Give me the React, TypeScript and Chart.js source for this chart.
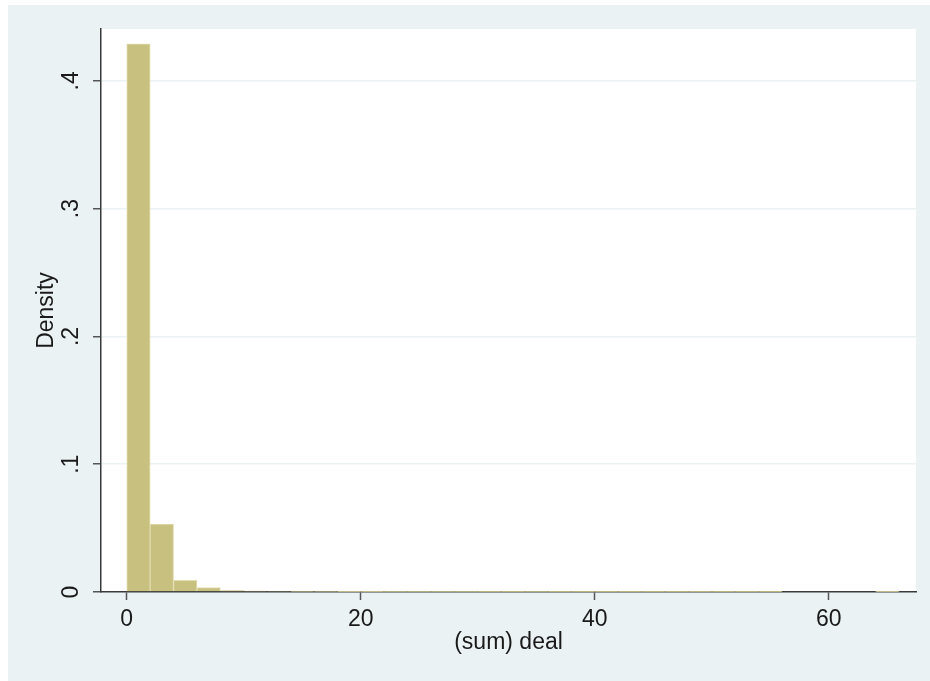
import React, { useEffect, useRef } from "react";
import { Chart, registerables } from "chart.js";

Chart.register(...registerables);

// Histogram of (sum) deal, bins of width 2 starting at 0
const binStarts: number[] = [
  0, 2, 4, 6, 8, 10, 12, 14, 16, 18, 20, 22, 24, 26, 28, 30, 32, 34, 36, 38,
  40, 42, 44, 46, 48, 50, 52, 54, 64,
];
const densities: number[] = [
  0.4289, 0.0532, 0.0092, 0.0034, 0.0011, 0.0008, 0.0006, 0.0005, 0.0004,
  0.0003, 0.0003, 0.0002, 0.0002, 0.0002, 0.0002, 0.0001, 0.0001, 0.0002,
  0.0001, 0.0001, 0.0001, 0.0001, 0.0001, 0.0001, 0.0001, 0.0001, 0.0001,
  0.0001, 0.0003,
];
const binWidth = 2;

const xTicks: number[] = [0, 20, 40, 60];
const yTicks: number[] = [0, 0.1, 0.2, 0.3, 0.4];
const yTickLabels: string[] = ["0", ".1", ".2", ".3", ".4"];

const xTitle = "(sum) deal";
const yTitle = "Density";

const FONT = 'Arial, "Liberation Sans", sans-serif';
const PANEL = "#eaf2f3";
const BAR_FILL = "#c8c07f";
const BAR_EDGE = "#e2ddb2";
const AXIS = "#3a3a3a";
const TICK = "#555555";
const TEXT = "#1a1a1a";

export default function App() {
  const ref = useRef<HTMLCanvasElement | null>(null);

  useEffect(() => {
    const canvas = ref.current;
    if (!canvas) return;

    const backdrop = {
      id: "backdrop",
      beforeDraw(chart: any) {
        const { ctx, chartArea: a } = chart;
        ctx.save();
        ctx.fillStyle = "#ffffff";
        ctx.fillRect(0, 0, chart.width, chart.height);
        ctx.fillStyle = PANEL;
        ctx.fillRect(8, 5, chart.width - 8, chart.height - 5);
        ctx.fillStyle = "#ffffff";
        ctx.fillRect(a.left, a.top, a.right - a.left, a.bottom - a.top);
        ctx.restore();
      },
      afterDraw(chart: any) {
        const { ctx, chartArea: a } = chart;
        const y = chart.scales.y;
        ctx.save();
        ctx.fillStyle = TEXT;
        ctx.font = `23px ${FONT}`;
        ctx.textAlign = "center";
        ctx.textBaseline = "middle";
        // rotated y tick labels
        yTicks.forEach((v, i) => {
          const py = y.getPixelForValue(v);
          ctx.save();
          ctx.translate(72, py);
          ctx.rotate(-Math.PI / 2);
          ctx.fillText(yTickLabels[i], 0, 0);
          ctx.restore();
        });
        // y axis title
        ctx.save();
        ctx.translate(47, (a.top + a.bottom) / 2);
        ctx.rotate(-Math.PI / 2);
        ctx.fillText(yTitle, 0, 0);
        ctx.restore();
        // x axis title
        ctx.fillText(xTitle, (a.left + a.right) / 2, 643);
        ctx.restore();
      },
    };

    const chart = new Chart(canvas, {
      type: "bar",
      data: {
        datasets: [
          {
            data: binStarts.map((s, i) => ({ x: s + binWidth / 2, y: densities[i] })),
            backgroundColor: BAR_FILL,
            borderColor: BAR_EDGE,
            borderWidth: 1,
            barPercentage: 1,
            categoryPercentage: 1,
          },
        ],
      },
      options: {
        animation: false,
        responsive: false,
        maintainAspectRatio: false,
        layout: { padding: { left: 0, top: 29, right: 14, bottom: 0 } },
        plugins: { legend: { display: false }, tooltip: { enabled: false } },
        scales: {
          x: {
            type: "linear",
            offset: false,
            min: -2.2,
            max: 67.45,
            z: 1,
            afterBuildTicks: (s: any) => {
              s.ticks = xTicks.map((v) => ({ value: v }));
            },
            afterFit: (s: any) => {
              s.height = 89;
            },
            border: { display: true, color: AXIS, width: 1.5 },
            grid: {
              display: true,
              offset: false,
              drawOnChartArea: false,
              drawTicks: true,
              tickLength: 8,
              tickColor: TICK,
              tickWidth: 1.5,
            },
            ticks: {
              color: TEXT,
              font: { family: FONT, size: 23 },
              padding: 6,
              maxRotation: 0,
              minRotation: 0,
              callback: (v: any) => String(v),
            },
          },
          y: {
            type: "linear",
            min: 0,
            max: 0.4406,
            afterBuildTicks: (s: any) => {
              s.ticks = yTicks.map((v) => ({ value: v }));
            },
            afterFit: (s: any) => {
              s.width = 101;
            },
            border: { display: true, color: AXIS, width: 1.5 },
            grid: {
              display: true,
              drawTicks: true,
              tickLength: 8,
              tickColor: TICK,
              tickWidth: 1.5,
              lineWidth: 1.5,
              color: (c: any) => (c.tick && c.tick.value === 0 ? "rgba(0,0,0,0)" : PANEL),
            },
            ticks: { display: false },
          },
        },
      },
      plugins: [backdrop],
    });

    return () => chart.destroy();
  }, []);

  return (
    <div style={{ position: "fixed", left: 0, top: 0, width: 930, height: 681 }}>
      <canvas ref={ref} width={930} height={681} style={{ display: "block" }} />
    </div>
  );
}
